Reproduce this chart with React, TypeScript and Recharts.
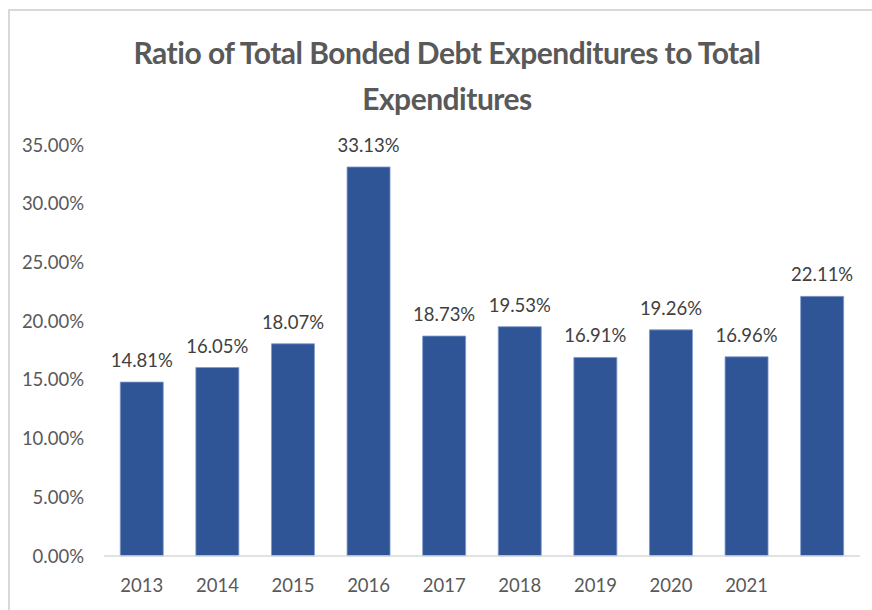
import { BarChart, Bar, XAxis, YAxis, LabelList } from "recharts";

// Data
const years = ["2013", "2014", "2015", "2016", "2017", "2018", "2019", "2020", "2021", ""];
const ratios = [14.81, 16.05, 18.07, 33.13, 18.73, 19.53, 16.91, 19.26, 16.96, 22.11];
const yTicks = [0, 5, 10, 15, 20, 25, 30, 35];

const TITLE_1 = "Ratio of Total Bonded Debt Expenditures to Total";
const TITLE_2 = "Expenditures";

// Colors
const BAR_FILL = "#2F5597";
const BAR_EDGE = "#7F9BCB";
const AXIS_TEXT = "#595959";
const LABEL_TEXT = "#404040";
const GRID_LINE = "#D9D9D9";
const FONT = "Lato, 'Open Sans', sans-serif";

const chartData = years.map((year, i) => ({ year, ratio: ratios[i] }));

export default function App() {
  return (
    <div
      style={{
        position: "absolute",
        left: 0,
        top: 0,
        width: 872,
        height: 610,
        overflow: "hidden",
        background: "#FFFFFF",
        fontFamily: FONT,
      }}
    >
      {/* chart frame, cropped on right and bottom */}
      <div
        style={{
          position: "absolute",
          left: 8,
          top: 9,
          width: 900,
          height: 700,
          border: `2px solid ${GRID_LINE}`,
          boxSizing: "border-box",
        }}
      />

      {/* Title */}
      <div
        style={{
          position: "absolute",
          left: 47,
          width: 800,
          top: 29,
          textAlign: "center",
          fontSize: 30,
          fontWeight: 700,
          lineHeight: "46px",
          color: AXIS_TEXT,
          letterSpacing: -0.5,
        }}
      >
        <div>{TITLE_1}</div>
        <div>{TITLE_2}</div>
      </div>

      <div style={{ position: "absolute", left: 0, top: 0 }}>
        <BarChart
          width={872}
          height={610}
          data={chartData}
          margin={{ top: 145, right: 12, bottom: 24, left: 0 }}
          barCategoryGap="21.5%"
        >
          <XAxis
            dataKey="year"
            height={30}
            axisLine={{ stroke: GRID_LINE, strokeWidth: 1.5 }}
            tickLine={false}
            tickSize={0}
            tickMargin={23}
            interval={0}
            tick={{ fill: AXIS_TEXT, fontSize: 18.5, fontFamily: FONT }}
          />
          <YAxis
            width={104}
            domain={[0, 35]}
            ticks={yTicks}
            axisLine={false}
            tickLine={false}
            tickSize={0}
            tickMargin={20}
            tickFormatter={(v: number) => `${v.toFixed(2)}%`}
            tick={{ fill: AXIS_TEXT, fontSize: 18.5, fontFamily: FONT }}
          />
          <Bar
            dataKey="ratio"
            fill={BAR_FILL}
            stroke={BAR_EDGE}
            strokeWidth={0.8}
            isAnimationActive={false}
          >
            <LabelList
              dataKey="ratio"
              position="top"
              offset={15}
              formatter={(v: number) => `${v.toFixed(2)}%`}
              style={{ fill: LABEL_TEXT, fontSize: 18.5, fontFamily: FONT }}
            />
          </Bar>
        </BarChart>
      </div>
    </div>
  );
}
